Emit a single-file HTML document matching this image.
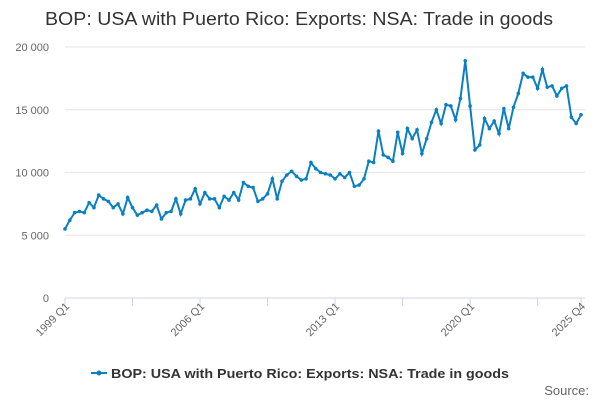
<!DOCTYPE html>
<html><head><meta charset="utf-8"><style>
body{margin:0;background:#fff;font-family:"Liberation Sans",sans-serif;}
svg text{font-family:"Liberation Sans",sans-serif;}
</style></head><body>
<svg id="chart" width="600" height="400">
<text x="45" y="25" font-size="18" fill="#333" textLength="508" lengthAdjust="spacingAndGlyphs">BOP: USA with Puerto Rico: Exports: NSA: Trade in goods</text>
<g id="grid"></g><g id="axes"></g><g id="series"></g>
<g>
<line x1="91" y1="373" x2="107" y2="373" stroke="#0a7fc2" stroke-width="2"/>
<circle cx="99" cy="373" r="2.5" fill="#0a7fc2"/>
<text x="111" y="378" font-size="13" font-weight="bold" fill="#333" textLength="398" lengthAdjust="spacingAndGlyphs">BOP: USA with Puerto Rico: Exports: NSA: Trade in goods</text>
</g>
<text x="589" y="395" text-anchor="end" font-size="13" fill="#666">Source:</text>
</svg>
<script>
const startYear = 1999;
const values = [5.5,6.2,6.8,6.9, 6.8,7.6,7.2,8.2, 7.9,7.7,7.2,7.5, 6.7,8.0,7.2,6.6,
6.8,7.0,6.9,7.4, 6.3,6.8,6.9,7.9, 6.7,7.8,7.9,8.7, 7.5,8.4,7.9,7.9,
7.2,8.1,7.8,8.4, 7.8,9.2,8.9,8.8, 7.7,7.9,8.3,9.5, 7.9,9.3,9.8,10.1,
9.7,9.4,9.5,10.8, 10.3,10.0,9.9,9.8, 9.5,9.9,9.6,10.0, 8.9,9.0,9.5,10.9,
10.8,13.3,11.4,11.2, 10.9,13.2,11.5,13.5, 12.7,13.4,11.5,12.7, 14.0,15.0,13.9,15.4,
15.3,14.2,15.9,18.9, 15.3,11.8,12.2,14.3, 13.5,14.1,13.1,15.1, 13.5,15.2,16.3,17.9,
17.6,17.6,16.7,18.2, 16.8,16.9,16.1,16.7, 16.9,14.4,13.9,14.6].map(v=>v*1000);
const yTicks = [0,5000,10000,15000,20000];
const yTickLabels = ["0","5 000","10 000","15 000","20 000"];
const xLabels = ["1999 Q1","2006 Q1","2013 Q1","2020 Q1","2025 Q4"];
const xLabelIdx = [0,28,56,84,107];
const NS="http://www.w3.org/2000/svg";
const x0=65,x1=581,y0=298,y1=47;
const xs=i=>x0+(x1-x0)*i/(values.length-1);
const ys=v=>y0-(y0-y1)*v/20000;
function mk(t,a,p){const e=document.createElementNS(NS,t);for(const k in a)e.setAttribute(k,a[k]);p.appendChild(e);return e;}
const grid=document.getElementById('grid'),axes=document.getElementById('axes'),ser=document.getElementById('series');
yTicks.forEach((v,i)=>{
 const l=mk('line',{x1:x0,x2:x1+4,y1:ys(v),y2:ys(v),stroke:i?'#e6e6e6':'#ccd6eb','stroke-width':1},grid);
 
 
 const t=mk('text',{x:49,y:ys(v)+4,'text-anchor':'end','font-size':11,fill:'#666'},axes);
 t.textContent=yTickLabels[i];
 
 
});
for(let i=0;i<values.length;i+=14){
 const tk=mk('line',{x1:xs(i),x2:xs(i),y1:y0,y2:y0+8,stroke:'#ccd6eb'},axes);
 
 
}
mk('line',{x1:xs(107),x2:xs(107),y1:y0,y2:y0+8,stroke:'#ccd6eb'},axes);
xLabels.forEach((s,i)=>{
 const x=xs(xLabelIdx[i]),y=y0+9;
 const t=mk('text',{x:x+5,y:y,'text-anchor':'end','font-size':11,fill:'#666',transform:`rotate(-45 ${x+5} ${y})`},axes);
 t.textContent=s;
 
 
});
const p=mk('path',{d:values.map((v,i)=>(i?'L':'M')+xs(i).toFixed(1)+','+ys(v).toFixed(1)).join(''),fill:'none',stroke:'#0a7fc2','stroke-width':2},ser);


values.forEach((v,i)=>{
 const c=mk('circle',{cx:xs(i),cy:ys(v),r:1.8,fill:'#0a7fc2'},ser);
 
 
});
</script>
</body></html>
